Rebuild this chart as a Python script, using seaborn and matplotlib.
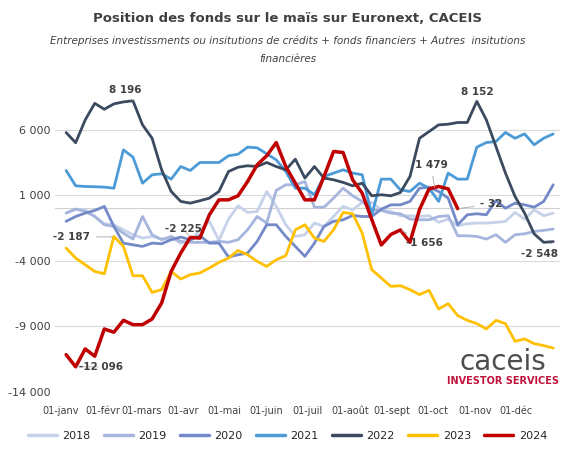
import numpy as np
import pandas as pd
import seaborn as sns
import matplotlib.pyplot as plt

# weekly net positions (contracts)
y2018 = [-370, -70, -120, -630, -1180, -1260, -1640, -2020, -2280, -2150, -2350, -2280, -2660, -2530,
         -1640, -1000, -2450, -830, 190, -320, -245, 1280, 140, -1260, -2150, -2020, -1130, -1390, -630,
         140, -120, 440, 440, -120, -245, -570, -570, -630, -570, -1080, -830, -1340, -1180, -1130, -1130,
         -1080, -1000, -320, -830, -120, -570, -370]
y2019 = [-370, -70, -240, -630, -1260, -1390, -1900, -2350, -630, -2020, -2400, -2150, -2530, -2600,
         -2600, -2600, -2530, -2600, -2400, -1640, -630, -1130, 1360, 1790, 1790, 2040, 80, 80, 770, 1530,
         950, 520, -120, -170, -370, -420, -830, -880, -880, -630, -570, -2100, -2100, -2150, -2350, -2020,
         -2600, -2020, -1950, -1770, -1690, -1590]
y2020 = [-1000, -630, -370, -170, 140, -1390, -2660, -2790, -2910, -2660, -2710, -2400, -2200, -2400,
         -2100, -2660, -2660, -3720, -3550, -3420, -2530, -1260, -1260, -2150, -2910, -3670, -2660, -1390,
         -1000, -880, -550, -630, -630, -70, 260, 260, 520, 1530, 1610, 1280, 770, -1260, -500, -420, -500,
         590, 0, 390, 260, 80, 520, 1790]
y2021 = [2880, 1710, 1660, 1640, 1610, 1530, 4450, 3900, 1910, 2550, 2630, 2220, 3180, 2880, 3490, 3490,
         3490, 4000, 4120, 4660, 4610, 4150, 3690, 2800, 1530, 1530, 1030, 2420, 2680, 2930, 2680, 2550,
         -500, 2220, 2220, 1400, 1280, 1910, 1530, 520, 2680, 2220, 2220, 4660, 5010, 5090, 5780, 5340,
         5670, 4840, 5340, 5670]
y2022 = [5775, 5000, 6740, 8000, 7550, 7960, 8110, 8196, 6360, 5340, 2930, 1280, 520, 390, 570, 770,
         1280, 2800, 3130, 3240, 3180, 3490, 3180, 2930, 3740, 2300, 3180, 2300, 2170, 1970, 1710, 1910,
         950, 1030, 950, 1200, 2420, 5340, 5850, 6360, 6410, 6540, 6540, 8152, 6740, 4710, 2680, 900, -370,
         -1950, -2600, -2548]
y2023 = [-3040, -3800, -4310, -4820, -5000, -2150, -2910, -5150, -5150, -6420, -6210, -4820, -5400, -5070,
         -4940, -4560, -4130, -3800, -3220, -3550, -4050, -4440, -3930, -3620, -1640, -1260, -2280, -2530,
         -1640, -320, -420, -1900, -4690, -5320, -5960, -5910, -6210, -6590, -6260, -7690, -7280, -8190,
         -8550, -8800, -9210, -8550, -8800, -10150, -9970, -10330, -10480, -10660]
y2024 = [-11170, -12096, -10730, -11290, -9210, -9460, -8550, -8880, -8880, -8450, -7230, -4820, -3420,
         -2225, -2280, -500, 640, 640, 950, 2040, 3310, 4000, 5010, 3180, 1910, 640, 640, 2420, 4330, 4250,
         2170, 1150, -860, -2800, -2000, -1656, -2600, -100, 1479, 1660, 1479, -32]

series = {"2018": y2018, "2019": y2019, "2020": y2020, "2021": y2021,
          "2022": y2022, "2023": y2023, "2024": y2024}
colors = {"2018": "#c6d1ea", "2019": "#a6b5dd", "2020": "#7489c8", "2021": "#4c9bd7",
          "2022": "#3b4a5e", "2023": "#ffc000", "2024": "#c00000"}
month_days = [0, 31, 59, 90, 120, 151, 181, 212, 243, 273, 304, 334]
month_labels = ["01-janv", "01-févr", "01-mars", "01-avr", "01-mai", "01-juin",
                "01-juil", "01-août", "01-sept", "01-oct", "01-nov", "01-déc"]

rows = []
for year, vals in series.items():
    for i, v in enumerate(vals):
        rows.append({"day": 4 + 7 * i, "value": v, "year": year})
df = pd.DataFrame(rows)

sns.set_theme(style="white")
plt.rcParams["font.family"] = ["DejaVu Sans"]
fig = plt.figure(figsize=(5.75, 4.62), dpi=100)
ax = fig.add_axes([0.096, 0.152, 0.878, 0.664])

sns.lineplot(data=df, x="day", y="value", hue="year", palette=colors, ax=ax,
             linewidth=2, legend=False)
ax.lines[-1].set_linewidth(2.5)

ax.set_xlim(-4, 366)
ax.set_ylim(-14000, 9400)
ax.set_yticks([-14000, -9000, -4000, 1000, 6000])
ax.set_yticklabels([f"{v:,}".replace(",", " ") for v in [-14000, -9000, -4000, 1000, 6000]],
                   fontsize=8, color="#404040")
ax.set_xticks(month_days)
ax.set_xticklabels(month_labels, fontsize=7, color="#404040")
ax.tick_params(axis="x", pad=10, length=0)
ax.tick_params(axis="y", length=0)
ax.grid(axis="y", color="#d9d9d9", linewidth=0.8)
ax.set_axisbelow(True)
ax.axhline(0, color="#d0d0d0", linewidth=0.8, zorder=0)
for s in ax.spines.values():
    s.set_visible(False)
ax.set_xlabel("")
ax.set_ylabel("")

def note(text, xy, xytext):
    ax.annotate(text, xy=xy, xytext=xytext, fontsize=7.5, fontweight="bold", color="#404040",
                ha="center", va="center",
                arrowprops=dict(arrowstyle="-", color="#a6a6a6", lw=0.6, shrinkA=2, shrinkB=1))

note("8 196", (4 + 7 * 7, 8196), (4 + 7 * 6.2, 9050))
note("-12 096", (4 + 7 * 1, -12096), (4 + 7 * 3.6, -12100))
note("-2 187", (4 + 7 * 5, -2187), (4 + 7 * 0.6, -2187))
note("-2 225", (4 + 7 * 13, -2225), (4 + 7 * 12.3, -1600))
note("1 479", (4 + 7 * 38.6, 1479), (4 + 7 * 38.2, 3300))
note("-1 656", (4 + 7 * 35, -1656), (4 + 7 * 37.5, -2650))
note("- 32", (4 + 7 * 41, -32), (4 + 7 * 44.5, 300))
note("-2 548", (4 + 7 * 51, -2548), (4 + 7 * 49.6, -3500))
note("8 152", (4 + 7 * 43, 8152), (4 + 7 * 43, 8900))

fig.text(0.5, 0.953, "Position des fonds sur le maïs sur Euronext, CACEIS", ha="center",
         fontsize=9.5, fontweight="bold", color="#404040")
fig.text(0.5, 0.905, "Entreprises investissments ou insitutions de crédits + fonds financiers + Autres  insitutions",
         ha="center", fontsize=7.5, style="italic", color="#404040")
fig.text(0.5, 0.865, "financières", ha="center", fontsize=7.5, style="italic", color="#404040")

fig.text(0.875, 0.2, "caceis", ha="center", fontsize=20, color="#4d4d4d")
fig.text(0.875, 0.168, "INVESTOR SERVICES", ha="center", fontsize=7, fontweight="bold", color="#c0143c")

handles = [plt.Line2D([], [], color=colors[y], lw=2.5) for y in series]
fig.legend(handles, list(series), loc="center", bbox_to_anchor=(0.5, 0.057), ncol=7,
           frameon=False, fontsize=8, handlelength=2.6, columnspacing=1.2, handletextpad=0.5)

fig.savefig("out.png", dpi=100)
